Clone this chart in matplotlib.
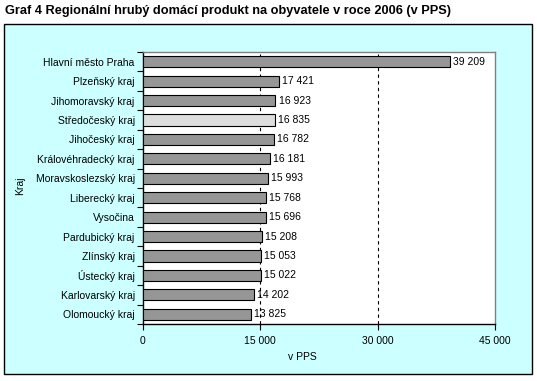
import matplotlib
matplotlib.use("Agg")
import matplotlib.pyplot as plt
from matplotlib.patches import Rectangle

regions = ["Hlavní město Praha", "Plzeňský kraj", "Jihomoravský kraj", "Středočeský kraj",
           "Jihočeský kraj", "Královéhradecký kraj", "Moravskoslezský kraj", "Liberecký kraj",
           "Vysočina", "Pardubický kraj", "Zlínský kraj", "Ústecký kraj",
           "Karlovarský kraj", "Olomoucký kraj"]
gdp = [39209, 17421, 16923, 16835, 16782, 16181, 15993, 15768,
       15696, 15208, 15053, 15022, 14202, 13825]
highlight = "Středočeský kraj"
x_ticks = [0, 15000, 30000, 45000]


def fmt(v):
    return f"{v:,}".replace(",", " ")


plt.rcParams["font.family"] = ["Liberation Sans", "DejaVu Sans"]

fig = plt.figure(figsize=(5.37, 3.81), dpi=100)
fig.patch.set_facecolor("white")

# chart area box
W, H = 537, 381
fig.patches.append(Rectangle((4 / W, 1 - 374 / H), 528 / W, 350 / H, transform=fig.transFigure,
                             facecolor="#CCFFFF", edgecolor="black", linewidth=1, zorder=-1))

fig.text(5 / W, 1 - 11 / H, "Graf 4 Regionální hrubý domácí produkt na obyvatele v roce 2006 (v PPS)",
         fontsize=9.2, fontweight="bold", va="center", ha="left")

ax = fig.add_axes([143 / W, 1 - 324 / H, 352 / W, 272 / H])
ax.set_zorder(1)
ax.set_facecolor("white")

pos = list(range(len(regions)))
colors = ["#DDDDDD" if r == highlight else "#969696" for r in regions]
ax.barh(pos, gdp, height=0.57, color=colors, edgecolor="black", linewidth=0.8, zorder=3)
for p, v in zip(pos, gdp):
    ax.text(v + 400, p, fmt(v), va="center", ha="left", fontsize=7.5, zorder=4)

ax.set_xlim(0, 45000)
ax.set_ylim(len(regions) - 0.5, -0.5)
ax.set_xticks(x_ticks)
ax.set_xticklabels([fmt(t) for t in x_ticks], fontsize=7.5)
ax.set_yticks(pos)
ax.set_yticklabels(regions, fontsize=7.5)
ax.set_yticks([p - 0.5 for p in pos] + [len(regions) - 0.5], minor=True)
ax.tick_params(axis="y", which="major", length=0, pad=6)
ax.tick_params(axis="y", which="minor", length=4, width=0.8, direction="out")
ax.tick_params(axis="x", length=4, width=0.8, direction="out", pad=5)

for t in x_ticks[1:3]:
    ax.axvline(t, color="black", linestyle=(0, (3, 3)), linewidth=0.8, zorder=2)

for s in ["top", "right"]:
    ax.spines[s].set_color("#808080")
    ax.spines[s].set_linewidth(1)
for s in ["left", "bottom"]:
    ax.spines[s].set_color("black")
    ax.spines[s].set_linewidth(1)

fig.text(302 / W, 1 - 357 / H, "v PPS", fontsize=7.5, ha="center", va="center")
fig.text(20 / W, 1 - 186 / H, "Kraj", fontsize=7.5, ha="center", va="center", rotation=90)

fig.savefig("out.png", dpi=100)
